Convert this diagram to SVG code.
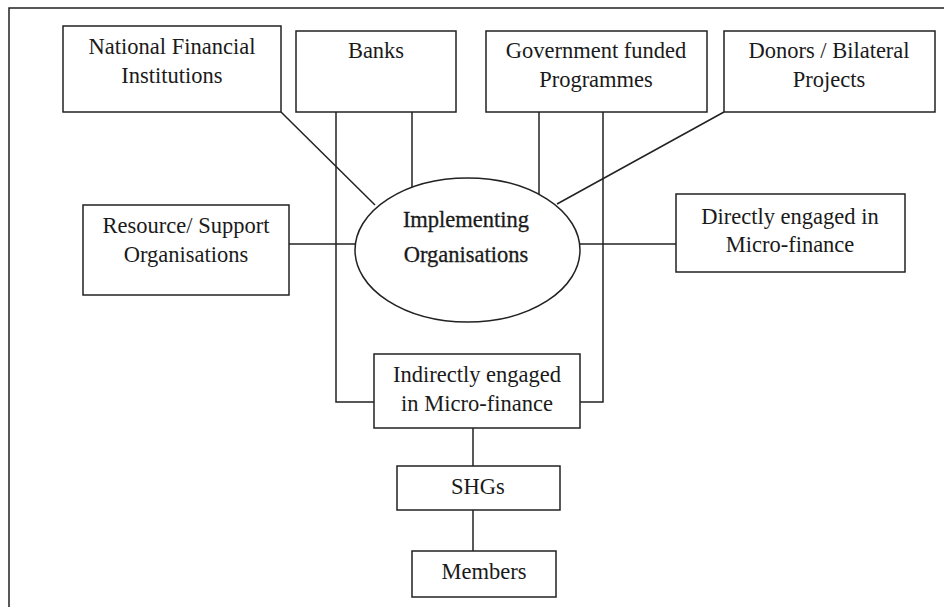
<svg xmlns="http://www.w3.org/2000/svg" width="944" height="607" viewBox="0 0 944 607">
<style>
.box{fill:#fff;stroke:#222;stroke-width:1.5}
.ln{fill:none;stroke:#222;stroke-width:1.5}
text{font-family:"Liberation Serif","Times New Roman",serif;font-size:22.5px;fill:#1a1a1a;text-anchor:middle}
.bold{stroke:#1a1a1a;stroke-width:0.3}
</style>
<rect width="944" height="607" fill="#fff"/>
<path class="ln" d="M944,8 H9 V607"/>
<g id="connectors">
<path class="ln" d="M281,112 L375,205"/>
<path class="ln" d="M336,112 V402 H374"/>
<path class="ln" d="M412,112 V189"/>
<path class="ln" d="M539,112 V194"/>
<path class="ln" d="M603,112 V402 H580"/>
<path class="ln" d="M724,112 L557,204"/>
<path class="ln" d="M289,244 H355"/>
<path class="ln" d="M580,244 H676"/>
<path class="ln" d="M473,428 V466"/>
<path class="ln" d="M473,510 V551"/>
</g>
<g id="nfi">
<rect class="box" x="63" y="26" width="218" height="86"/>
<text x="172" y="54">National Financial</text>
<text x="172" y="83">Institutions</text>
</g>
<g id="banks">
<rect class="box" x="296" y="31" width="160" height="81"/>
<text x="376" y="58">Banks</text>
</g>
<g id="gov">
<rect class="box" x="486" y="31" width="221" height="81"/>
<text x="596" y="58">Government funded</text>
<text x="596" y="87">Programmes</text>
</g>
<g id="donors">
<rect class="box" x="724" y="31" width="211" height="81"/>
<text x="829" y="58">Donors / Bilateral</text>
<text x="829" y="87">Projects</text>
</g>
<g id="resource">
<rect class="box" x="83" y="205" width="206" height="90"/>
<text x="186" y="233">Resource/ Support</text>
<text x="186" y="262">Organisations</text>
</g>
<g id="implementing">
<ellipse class="box" cx="467.5" cy="250" rx="112.5" ry="72"/>
<text class="bold" x="466" y="227">Implementing</text>
<text class="bold" x="466" y="262">Organisations</text>
</g>
<g id="directly">
<rect class="box" x="676" y="194" width="229" height="78"/>
<text x="790" y="224">Directly engaged in</text>
<text x="790" y="252">Micro-finance</text>
</g>
<g id="indirectly">
<rect class="box" x="374" y="354" width="206" height="74"/>
<text x="477" y="382">Indirectly engaged</text>
<text x="477" y="411">in Micro-finance</text>
</g>
<g id="shgs">
<rect class="box" x="397" y="466" width="163" height="44"/>
<text x="478" y="494">SHGs</text>
</g>
<g id="members">
<rect class="box" x="412" y="551" width="144" height="46"/>
<text x="484" y="579">Members</text>
</g>
</svg>
